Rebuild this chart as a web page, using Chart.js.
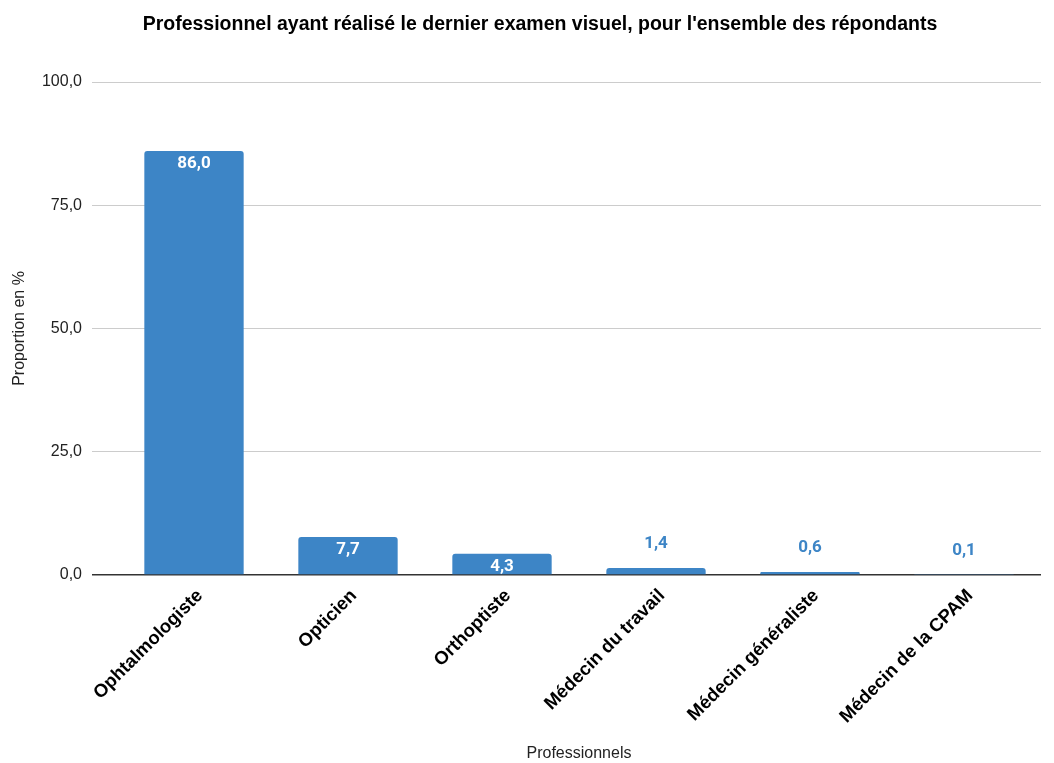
<!DOCTYPE html>
<html lang="fr">
<head>
<meta charset="utf-8">
<script src="https://cdn.jsdelivr.net/npm/chart.js@4.4.1/dist/chart.umd.min.js"></script>
<style>
  html, body { margin: 0; padding: 0; background: #fff; }
  #wrap { width: 1054px; height: 763px; }
</style>
</head>
<body>
<div id="wrap"><canvas id="chart"></canvas></div>
<script>
// Professionnels ayant réalisé le dernier examen visuel (en %)
const professionnels = [`Ophtalmologiste`, `Opticien`, `Orthoptiste`, `Médecin du travail`, `Médecin généraliste`, `Médecin de la CPAM`]
const proportions = [86.0, 7.7, 4.3, 1.4, 0.6, 0.1]
const yTicks = [0, 25, 50, 75, 100]
const titre = `Professionnel ayant réalisé le dernier examen visuel, pour l'ensemble des répondants`

const BLUE = `#3d85c6`
const SANS = `"Liberation Sans", Arial, sans-serif`
const fr = v => v.toFixed(1).replace(`.`, `,`)

//  Chart title, centred over the bars rather than the whole canvas
const titlePlugin = {
	id: `titreGraphique`,
	afterDraw(chart) {
		const { ctx } = chart
		ctx.save()
		ctx.font = `bold 19.5px ${SANS}`
		ctx.fillStyle = `#000`
		ctx.textAlign = `center`
		ctx.textBaseline = `middle`
		ctx.fillText(titre, 540, 25)
		ctx.restore()
	}
}

//  Value labels: inside the bar when it is tall enough, above it otherwise
const barLabels = {
	id: `barLabels`,
	afterDatasetsDraw(chart) {
		const { ctx } = chart
		const meta = chart.getDatasetMeta(0)
		ctx.save()
		ctx.font = `bold 17px Roboto, ${SANS}`
		ctx.textAlign = `center`
		ctx.textBaseline = `middle`
		meta.data.forEach((bar, i) => {
			const v = proportions[i]
			if (v >= 3) {
				ctx.fillStyle = `#ffffff`
				ctx.fillText(fr(v), bar.x, bar.y + 13)
			} else {
				ctx.fillStyle = BLUE
				ctx.fillText(fr(v), bar.x, bar.y - 24)
			}
		})
		ctx.restore()
	}
}

new Chart(document.getElementById(`chart`), {
	type: `bar`,
	data: {
		labels: professionnels,
		datasets: [{
			data: proportions,
			backgroundColor: BLUE,
			borderRadius: 3,
			categoryPercentage: 1,
			barPercentage: 0.645
		}]
	},
	options: {
		responsive: true,
		maintainAspectRatio: false,
		animation: false,
		layout: { padding: { top: 82, right: 13, bottom: 0, left: 0 } },
		plugins: {
			legend: { display: false },
			tooltip: { enabled: false },
			title: { display: false }
		},
		scales: {
			x: {
				afterFit: scale => { scale.height = 188 },
				grid: { display: false },
				border: { display: false },
				ticks: {
					color: `#000`,
					maxRotation: 45,
					minRotation: 45,
					padding: 2,
					labelOffset: 6,
					font: { family: SANS, size: 18.5, weight: `bold` }
				},
				title: {
					display: true,
					text: `Professionnels`,
					color: `#222`,
					font: { family: SANS, size: 16 },
					padding: { top: 4, bottom: 0 }
				}
			},
			y: {
				min: 0,
				max: 100,
				afterBuildTicks: scale => { scale.ticks = yTicks.map(value => ({ value })) },
				afterFit: scale => { scale.width = 117 },
				border: { display: false },
				grid: {
					color: ctx => ctx.tick && ctx.tick.value === 0 ? `#333` : `#cccccc`,
					lineWidth: ctx => ctx.tick && ctx.tick.value === 0 ? 1.5 : 1,
					tickLength: 25
				},
				ticks: {
					color: `#222`,
					padding: 10,
					font: { family: SANS, size: 16 },
					callback: v => fr(v)
				},
				title: {
					display: true,
					text: `Proportion en %`,
					color: `#222`,
					font: { family: SANS, size: 16 },
					padding: { top: 10, bottom: 0 }
				}
			}
		}
	},
	plugins: [barLabels, titlePlugin]
})
</script>
</body>
</html>
